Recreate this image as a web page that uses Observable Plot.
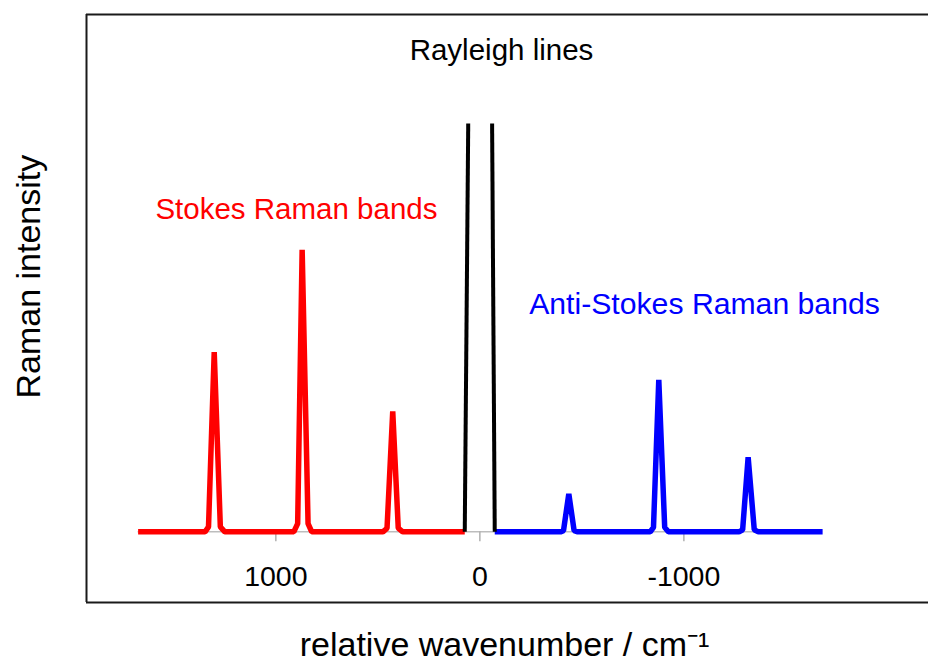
<!DOCTYPE html>
<html>
<head>
<meta charset="utf-8">
<script src="https://cdn.jsdelivr.net/npm/d3@7"></script>
<script src="https://cdn.jsdelivr.net/npm/@observablehq/plot@0.6"></script>
<style>
  html, body { margin: 0; padding: 0; background: #fff; }
  #chart svg { display: block; font-family: "Liberation Sans", Arial, sans-serif; }
</style>
</head>
<body>
<div id="chart"></div>
<script>
// Stokes Raman bands (relative wavenumber, intensity)
const stokesX = [1675, 1347, 1330, 1302, 1272, 1250, 912, 893, 871, 842, 824, 475, 455, 427, 400, 378, 74];
const stokesY = [0, 0, 1.2, 44.0, 1.2, 0, 0, 2.0, 69.1, 2.0, 0, 0, 0.9, 29.5, 0.9, 0, 0];
// Anti-Stokes Raman bands
const antiX = [-73, -395, -410, -436, -462, -480, -835, -851, -877, -906, -924, -1270, -1288, -1315, -1345, -1365, -1680];
const antiY = [0, 0, 0.3, 9.3, 0.3, 0, 0, 1.1, 37.2, 1.1, 0, 0, 0.5, 18.3, 0.5, 0, 0];
// Rayleigh lines (two separate strokes)
const rayleighX = [74, 57, -60, -73];
const rayleighY = [0, 100, 100, 0];
const rayleighSeg = ["a", "a", "b", "b"];
// x axis ticks
const tickValues = [1000, 0, -1000];
const tickLabels = ["1000", "0", "-1000"];
// annotation labels
const labelTexts = ["Rayleigh lines", "Stokes Raman bands", "Anti-Stokes Raman bands"];
const labelX = [-106, 899, -1101];
const labelY = [117.9, 79.0, 55.8];
const labelColors = ["#000000", "#ff0000", "#0000ff"];
const labelSizes = [29.5, 29.5, 30.2];
const xTitle = "relative wavenumber / cm⁻¹";
const yTitle = "Raman intensity";

const stokes = stokesX.map((x, i) => ({x, y: stokesY[i]}));
const anti = antiX.map((x, i) => ({x, y: antiY[i]}));
const rayleigh = rayleighX.map((x, i) => ({x, y: rayleighY[i], s: rayleighSeg[i]}));
const ticks = tickValues.map((v, i) => ({v, label: tickLabels[i]}));
const labels = labelTexts.map((t, i) => ({t, x: labelX[i], y: labelY[i], c: labelColors[i], fs: labelSizes[i]}));

const xDomain = [1928, -2199];
const yDomain = [-17.3, 126.7];
const font = "Liberation Sans, Arial, sans-serif";

const chart = Plot.plot({
  width: 928,
  height: 664,
  marginLeft: 86,
  marginRight: 0,
  marginTop: 14,
  marginBottom: 62,
  style: {fontFamily: font, background: "#fff"},
  x: {domain: xDomain, axis: null},
  y: {domain: yDomain, axis: null},
  marks: [
    // baseline axis line and ticks
    Plot.ruleY([0], {x1: stokesX[0], x2: antiX[antiX.length - 1], stroke: "#bdbdbd", strokeWidth: 1.5}),
    Plot.ruleX(ticks, {x: "v", y1: 0, y2: -2.4, stroke: "#b0b0b0", strokeWidth: 1.5}),
    Plot.text(ticks, {x: "v", y: -11.07, text: "label", fontSize: 28.5, fill: "#000", lineAnchor: "middle"}),
    // spectra
    Plot.line(stokes, {x: "x", y: "y", stroke: "#ff0000", strokeWidth: 5.5, strokeLinejoin: "miter", strokeLinecap: "butt"}),
    Plot.line(anti, {x: "x", y: "y", stroke: "#0000ff", strokeWidth: 5.5, strokeLinejoin: "miter", strokeLinecap: "butt"}),
    Plot.line(rayleigh, {x: "x", y: "y", z: "s", stroke: "#000", strokeWidth: 4, strokeLinejoin: "miter", strokeLinecap: "butt"}),
    // annotations
    ...labels.map(l => Plot.text([l], {x: "x", y: "y", text: "t", fill: "c", fontSize: l.fs, lineAnchor: "middle"})),
    // axis titles
    Plot.text([xTitle], {x: -121, y: -27.85, text: d => d, fontSize: 34, fill: "#000", lineAnchor: "middle"}),
    Plot.text([yTitle], {x: 2210, y: 62.5, text: d => d, fontSize: 34, fill: "#000", rotate: -90, lineAnchor: "middle"}),
    // frame (left, top, bottom)
    Plot.ruleX([xDomain[0]], {stroke: "#1a1a1a", strokeWidth: 2}),
    Plot.ruleY(yDomain, {stroke: "#1a1a1a", strokeWidth: 2})
  ]
});
document.getElementById("chart").appendChild(chart);
</script>
</body>
</html>
